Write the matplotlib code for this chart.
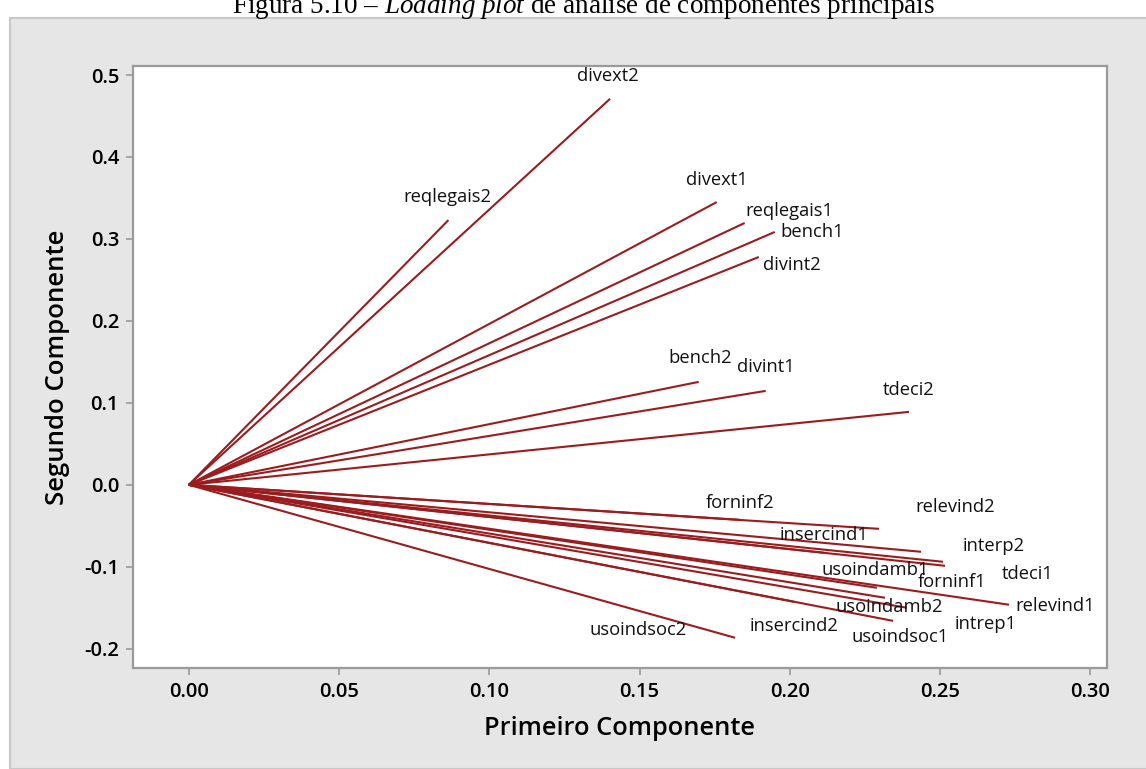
import matplotlib
matplotlib.use("Agg")
import matplotlib.pyplot as plt
from matplotlib.patches import Rectangle

# Cargas (primeiro componente, segundo componente) de cada variável
variaveis = ["divext2", "reqlegais2", "divext1", "reqlegais1", "bench1", "divint2",
             "bench2", "divint1", "tdeci2",
             "relevind2", "tdeci1", "interp2", "forninf1", "relevind1",
             "usoindamb1", "usoindamb2", "intrep1", "usoindsoc1", "usoindsoc2",
             "forninf2", "insercind1", "insercind2"]
pc1 = [0.1402, 0.0864, 0.1757, 0.1850, 0.1950, 0.1897,
       0.1697, 0.1920, 0.2397,
       0.2297, 0.2437, 0.2510, 0.2517, 0.2730,
       0.2290, 0.2317, 0.2390, 0.2344, 0.1818,
       0.1834, 0.2114, 0.2014]
pc2 = [0.4710, 0.3230, 0.3450, 0.3195, 0.3085, 0.2780,
       0.1256, 0.1146, 0.0890,
       -0.0537, -0.0817, -0.0939, -0.0988, -0.1463,
       -0.1256, -0.1378, -0.1500, -0.1660, -0.1866,
       -0.0427, -0.0829, -0.1427]

xticks = [0.00, 0.05, 0.10, 0.15, 0.20, 0.25, 0.30]
yticks = [-0.2, -0.1, 0.0, 0.1, 0.2, 0.3, 0.4, 0.5]

# deslocamento dos rótulos em pixels (dx, dy)
desloc = {
    "divext2": (-2, 23), "reqlegais2": (-1, 23), "divext1": (0, 22),
    "reqlegais1": (45, 12), "bench1": (37, 0), "divint2": (33, -8),
    "bench2": (1, 24), "divint1": (0, 24), "tdeci2": (0, 22),
    "relevind2": (76, 22), "tdeci1": (107, -22), "interp2": (51, 16),
    "forninf1": (7, -16), "relevind1": (46, -1), "usoindamb1": (-2, 18),
    "usoindamb2": (4, -9), "intrep1": (79, -16), "usoindsoc1": (7, -16),
    "usoindsoc2": (-97, 8), "forninf2": (0, 17), "insercind1": (0, 18),
    "insercind2": (0, -24),
}

plt.rcParams["font.family"] = ["Open Sans", "DejaVu Sans"]
plt.rcParams["mathtext.fontset"] = "custom"
plt.rcParams["mathtext.rm"] = "Liberation Serif"
plt.rcParams["mathtext.it"] = "Liberation Serif:italic"

W, H = 1146, 769
fig = plt.figure(figsize=(W / 100, H / 100), dpi=100)
fig.patch.set_facecolor("white")

# painel cinza de fundo
fig.patches.append(Rectangle((10 / W, 0), 1.0, 1 - 18 / H, transform=fig.transFigure,
                             facecolor="#e6e6e6", edgecolor="#c8c8c8", linewidth=1.5,
                             zorder=0))

fig.text(583 / W, 1 - 13 / H,
         "Figura 5.10 – $\\it{Loading\\ plot}$ de análise de componentes principais",
         ha="center", va="baseline", fontsize=19.5, family="Liberation Serif")

ax = fig.add_axes([133 / W, 1 - 668 / H, (1107 - 133) / W, (668 - 66) / H])
ax.set_zorder(2)
ax.set_facecolor("white")

cor = "#9b1c1f"
for nome, x, y in zip(variaveis, pc1, pc2):
    ax.plot([0, x], [0, y], color=cor, linewidth=1.5, solid_capstyle="butt")
    dx, dy = desloc[nome]
    ax.annotate(nome, (x, y), xytext=(dx, dy), textcoords="offset pixels",
                ha="center", va="center", fontsize=13.2, color="#111111")

ax.set_xlim(-0.0186, 0.3056)
ax.set_ylim(-0.2235, 0.511)
ax.set_xticks(xticks)
ax.set_xticklabels([f"{v:.2f}" for v in xticks])
ax.set_yticks(yticks)
ax.set_yticklabels([f"{v:.1f}" for v in yticks])

for s in ax.spines.values():
    s.set_color("#9a9a9a")
    s.set_linewidth(1.6)
ax.tick_params(direction="out", length=5, width=1.2, color="#9a9a9a",
               labelsize=14.5, pad=5)
for lab in ax.get_xticklabels() + ax.get_yticklabels():
    lab.set_fontweight("semibold")

ax.set_xlabel("Primeiro Componente", fontsize=18.3, fontweight="semibold", labelpad=10)
ax.set_ylabel("Segundo Componente", fontsize=18.5, fontweight="semibold", labelpad=10)

fig.savefig("out.png", dpi=100)
